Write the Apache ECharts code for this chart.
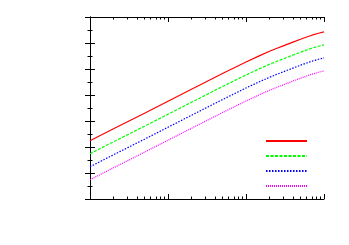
<!DOCTYPE html>
<html>
<head>
<meta charset="utf-8">
<script src="https://cdn.jsdelivr.net/npm/echarts@6/dist/echarts.min.js"></script>
<style>html,body{margin:0;padding:0;background:#fff;}#c{width:349px;height:245px;}</style>
</head>
<body>
<div id="c"></div>
<script>
const xValues = [1, 2, 5, 10, 20, 50, 100, 150, 200, 250, 300, 400, 500, 600, 700, 850, 1000];
const series1 = [4.48, 5.40, 6.60, 7.52, 8.44, 9.65, 10.54, 11.03, 11.36, 11.60, 11.78, 12.07, 12.29, 12.46, 12.60, 12.75, 12.85];
const series2 = [3.48, 4.40, 5.60, 6.52, 7.44, 8.65, 9.54, 10.03, 10.36, 10.60, 10.78, 11.07, 11.29, 11.46, 11.60, 11.75, 11.85];
const series3 = [2.48, 3.40, 4.60, 5.52, 6.44, 7.65, 8.54, 9.03, 9.36, 9.60, 9.78, 10.07, 10.29, 10.46, 10.60, 10.75, 10.85];
const series4 = [1.48, 2.40, 3.60, 4.52, 5.44, 6.65, 7.54, 8.03, 8.36, 8.60, 8.78, 9.07, 9.29, 9.46, 9.60, 9.75, 9.85];
const seriesNames = ['s1', 's2', 's3', 's4'];
const minorTickValues = [];
[1, 10, 100].forEach(function (d) { for (let k = 2; k <= 9; k++) minorTickValues.push(Math.log10(d * k)); });

const chart = echarts.init(document.getElementById('c'), null, {renderer: 'canvas'});
function pairs(ys) { return xValues.map(function (x, i) { return [x, ys[i]]; }); }
const colors = ['#ff0000', '#00ff00', '#0000ff', '#ff00ff'];
const dashes = ['solid', [3, 1.5], [1.5, 1.5], [1, 1]];
const data = [series1, series2, series3, series4];
const majorTick = {show: true, inside: true, length: 5, lineStyle: {color: '#000', width: 1}};
const minorTickStyle = {show: true, inside: true, length: 2.5, lineStyle: {color: '#000', width: 1}};
function logAxis(pos, lineShow) {
  return {type: 'log', logBase: 10, min: 1, max: 1000, position: pos,
    axisLine: {show: lineShow, lineStyle: {color: '#000', width: 1}},
    axisTick: majorTick, axisLabel: {show: false}, splitLine: {show: false}};
}
function minorAxis(pos) {
  return {type: 'value', min: 0, max: 3, position: pos,
    axisLine: {show: false},
    axisTick: Object.assign({customValues: minorTickValues}, minorTickStyle),
    axisLabel: {show: false}, splitLine: {show: false}};
}
function yAx(pos) {
  return {type: 'value', min: 0, max: 14, interval: 2, position: pos,
    axisLine: {show: true, lineStyle: {color: '#000', width: 1}},
    axisTick: majorTick,
    minorTick: {show: true, splitNumber: 2, length: 2.5, lineStyle: {color: '#000', width: 1}},
    axisLabel: {show: false}, splitLine: {show: false}, minorSplitLine: {show: false}};
}
const option = {
  animation: false,
  backgroundColor: '#ffffff',
  grid: {left: 90, right: 25, top: 17, bottom: 46, containLabel: false},
  xAxis: [logAxis('bottom', true), minorAxis('bottom'), logAxis('top', true), minorAxis('top')],
  yAxis: [yAx('left'), yAx('right')],
  legend: {
    left: 265, top: 136, padding: 0, orient: 'vertical', itemWidth: 41, itemHeight: 10, itemGap: 6,
    itemStyle: {opacity: 0},
    formatter: function () { return ''; },
    data: seriesNames.map(function (n) { return {name: n}; })
  },
  series: data.map(function (ys, i) {
    return {
      name: seriesNames[i], type: 'line', xAxisIndex: 0, yAxisIndex: 0,
      data: pairs(ys), smooth: false, symbol: 'none', showSymbol: false,
      lineStyle: {color: colors[i], width: 1.2, type: dashes[i]},
      itemStyle: {color: colors[i]}
    };
  })
};
chart.setOption(option);
</script>
</body>
</html>
